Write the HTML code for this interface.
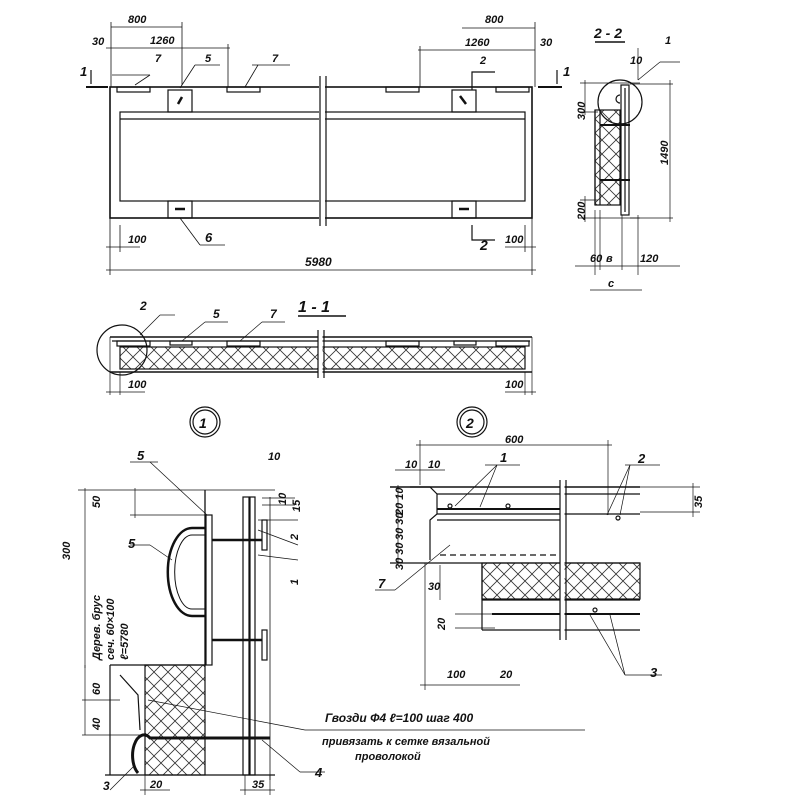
<!DOCTYPE html>
<html><head><meta charset="utf-8"><style>
html,body{margin:0;padding:0;background:#fff}
svg{display:block}
text{font-family:"Liberation Sans","DejaVu Sans",sans-serif;font-style:italic;font-weight:bold;fill:#111}
</style></head><body>
<svg width="800" height="800" viewBox="0 0 800 800" xmlns="http://www.w3.org/2000/svg">
<defs>
<pattern id="h" width="14" height="14" patternUnits="userSpaceOnUse">
<path d="M0 0L14 14M14 0L0 14" stroke="#333" stroke-width="0.8"/>
</pattern>
</defs>
<g stroke="#111" fill="none" stroke-width="1.2">
<!-- PLAN -->
<rect x="110" y="87" width="422" height="131" stroke-width="1.6"/>
<rect x="120" y="112" width="405" height="89"/>
<line x1="120" y1="119" x2="525" y2="119"/>
<line x1="322" y1="76" x2="322" y2="226" stroke="#fff" stroke-width="6"/>
<line x1="320" y1="76" x2="320" y2="226"/><line x1="326" y1="76" x2="326" y2="226"/>
<rect x="168" y="90" width="24" height="22"/><rect x="452" y="90" width="24" height="22"/>
<rect x="168" y="201" width="24" height="17"/><rect x="452" y="201" width="24" height="17"/>
<line x1="178" y1="104" x2="182" y2="97" stroke-width="2.5"/><line x1="460" y1="96" x2="466" y2="104" stroke-width="2.5"/>
<line x1="175" y1="209" x2="185" y2="209" stroke-width="2.5"/><line x1="459" y1="209" x2="469" y2="209" stroke-width="2.5"/>
<rect x="117" y="87" width="33" height="5"/><rect x="227" y="87" width="33" height="5"/>
<rect x="386" y="87" width="33" height="5"/><rect x="496" y="87" width="33" height="5"/>
<line x1="86" y1="87" x2="108" y2="87" stroke-width="2"/><line x1="538" y1="87" x2="562" y2="87" stroke-width="2"/>
<line x1="91" y1="70" x2="91" y2="84"/><line x1="557" y1="70" x2="557" y2="84"/>
<!-- plan dims -->
<line x1="110" y1="88" x2="110" y2="275" stroke-width="0.8"/><line x1="532" y1="218" x2="532" y2="275" stroke-width="0.8"/>
<line x1="106" y1="270" x2="536" y2="270" stroke-width="0.8"/>
<line x1="106" y1="247" x2="140" y2="247" stroke-width="0.8"/><line x1="120" y1="225" x2="120" y2="252" stroke-width="0.8"/>
<line x1="525" y1="225" x2="525" y2="252" stroke-width="0.8"/><line x1="505" y1="247" x2="536" y2="247" stroke-width="0.8"/>
<line x1="111" y1="27" x2="182" y2="27" stroke-width="0.8"/><line x1="111" y1="22" x2="111" y2="87" stroke-width="0.8"/><line x1="182" y1="22" x2="182" y2="85" stroke-width="0.8"/>
<line x1="106" y1="48" x2="230" y2="48" stroke-width="0.8"/><line x1="228" y1="44" x2="228" y2="87" stroke-width="0.8"/>
<line x1="462" y1="28" x2="535" y2="28" stroke-width="0.8"/><line x1="535" y1="22" x2="535" y2="87" stroke-width="0.8"/>
<line x1="418" y1="50" x2="535" y2="50" stroke-width="0.8"/><line x1="420" y1="46" x2="420" y2="87" stroke-width="0.8"/>
<line x1="112" y1="75" x2="150" y2="75" stroke-width="0.8"/><line x1="135" y1="85" x2="150" y2="75" stroke-width="0.8"/>
<line x1="195" y1="65" x2="220" y2="65" stroke-width="0.8"/><line x1="180" y1="88" x2="195" y2="65" stroke-width="0.8"/>
<line x1="252" y1="65" x2="290" y2="65" stroke-width="0.8"/><line x1="245" y1="87" x2="258" y2="65" stroke-width="0.8"/>
<line x1="180" y1="218" x2="200" y2="245" stroke-width="0.8"/><line x1="200" y1="245" x2="225" y2="245" stroke-width="0.8"/>
<polyline points="472,90 472,72 495,72"/><polyline points="472,225 472,240 495,240"/>
<!-- 2-2 section -->
<circle cx="620" cy="102" r="22"/>
<rect x="595" y="110" width="25" height="95" fill="url(#h)"/>
<line x1="595" y1="110" x2="595" y2="205"/><line x1="600" y1="110" x2="600" y2="205"/>
<rect x="621" y="85" width="8" height="130"/><line x1="625" y1="88" x2="625" y2="212"/>
<line x1="600" y1="125" x2="630" y2="125" stroke-width="2"/><line x1="600" y1="180" x2="630" y2="180" stroke-width="2"/>
<path d="M620 95 a4 4 0 1 0 0 8"/>
<line x1="580" y1="83" x2="640" y2="83" stroke-width="0.7"/><line x1="580" y1="112" x2="598" y2="112" stroke-width="0.7"/>
<line x1="585" y1="80" x2="585" y2="115" stroke-width="0.7"/>
<line x1="580" y1="200" x2="598" y2="200" stroke-width="0.7"/><line x1="580" y1="218" x2="640" y2="218" stroke-width="0.7"/>
<line x1="585" y1="196" x2="585" y2="222" stroke-width="0.7"/>
<line x1="630" y1="84" x2="673" y2="84" stroke-width="0.7"/><line x1="670" y1="80" x2="670" y2="222" stroke-width="0.7"/><line x1="630" y1="218" x2="673" y2="218" stroke-width="0.7"/>
<line x1="595" y1="210" x2="595" y2="275" stroke-width="0.7"/><line x1="600" y1="210" x2="600" y2="270" stroke-width="0.7"/>
<line x1="622" y1="215" x2="622" y2="270" stroke-width="0.7"/><line x1="638" y1="215" x2="638" y2="275" stroke-width="0.7"/>
<line x1="575" y1="266" x2="680" y2="266" stroke-width="0.7"/><line x1="590" y1="290" x2="642" y2="290" stroke-width="0.7"/>
<line x1="638" y1="48" x2="638" y2="80" stroke-width="0.7"/><line x1="638" y1="80" x2="660" y2="62" stroke-width="0.7"/><line x1="660" y1="62" x2="680" y2="62" stroke-width="0.7"/>
<line x1="595" y1="42" x2="625" y2="42" stroke-width="1.5"/>
<!-- 1-1 section -->
<line x1="110" y1="337" x2="532" y2="337" stroke-width="1.4"/>
<line x1="112" y1="341" x2="530" y2="341"/>
<rect x="120" y="347" width="405" height="22" fill="url(#h)"/>
<line x1="110" y1="372" x2="532" y2="372" stroke-width="1.4"/>
<line x1="110" y1="337" x2="110" y2="395" stroke-width="0.7"/><line x1="532" y1="337" x2="532" y2="395" stroke-width="0.7"/>
<line x1="120" y1="372" x2="120" y2="395" stroke-width="0.7"/><line x1="525" y1="372" x2="525" y2="395" stroke-width="0.7"/>
<line x1="106" y1="392" x2="145" y2="392" stroke-width="0.7"/><line x1="505" y1="392" x2="536" y2="392" stroke-width="0.7"/>
<rect x="117" y="341" width="33" height="5"/><rect x="227" y="341" width="33" height="5"/><rect x="386" y="341" width="33" height="5"/><rect x="496" y="341" width="33" height="5"/>
<rect x="170" y="341" width="22" height="4"/><rect x="454" y="341" width="22" height="4"/>
<circle cx="122" cy="350" r="25"/>
<line x1="320" y1="330" x2="320" y2="378" stroke="#fff" stroke-width="5"/>
<line x1="318" y1="330" x2="318" y2="378"/><line x1="324" y1="330" x2="324" y2="378"/>
<line x1="140" y1="335" x2="160" y2="315" stroke-width="0.7"/><line x1="160" y1="315" x2="175" y2="315" stroke-width="0.7"/>
<line x1="182" y1="341" x2="205" y2="322" stroke-width="0.7"/><line x1="205" y1="322" x2="228" y2="322" stroke-width="0.7"/>
<line x1="240" y1="341" x2="262" y2="322" stroke-width="0.7"/><line x1="262" y1="322" x2="285" y2="322" stroke-width="0.7"/>
<line x1="298" y1="316" x2="346" y2="316" stroke-width="1.5"/>
<circle cx="205" cy="422" r="15"/><circle cx="205" cy="422" r="12"/>
<circle cx="472" cy="422" r="15"/><circle cx="472" cy="422" r="12"/>
<!-- DETAIL 1 -->
<line x1="78" y1="490" x2="275" y2="490" stroke-width="0.8"/>
<polyline points="205,490 205,665 110,665" stroke-width="1.3"/>
<rect x="206" y="515" width="6" height="150"/>
<line x1="212" y1="540" x2="262" y2="540" stroke-width="2.5"/><line x1="212" y1="640" x2="262" y2="640" stroke-width="2.5"/>
<rect x="262" y="520" width="5" height="30"/><rect x="262" y="630" width="5" height="30"/>
<rect x="243" y="497" width="6" height="278"/><rect x="250" y="497" width="5" height="278"/>
<line x1="270" y1="497" x2="270" y2="780" stroke-width="0.8"/>
<path d="M205 528 H192 a22 40 0 0 0 0 88 H205" stroke-width="2.5"/>
<path d="M205 535 H192 a15 32 0 0 0 0 74 H205" stroke-width="1"/>
<rect x="145" y="665" width="60" height="110" fill="url(#h)"/>
<line x1="110" y1="665" x2="110" y2="775"/>
<polyline points="120,675 138,695 140,730"/>
<path d="M270 738 H150 a10 18 0 0 0 -12 35" stroke-width="3"/>
<line x1="105" y1="775" x2="275" y2="775"/>
<line x1="85" y1="488" x2="85" y2="668" stroke-width="0.7"/>
<line x1="135" y1="488" x2="135" y2="518" stroke-width="0.7"/><line x1="130" y1="515" x2="205" y2="515" stroke-width="0.7"/>
<line x1="85" y1="665" x2="85" y2="735" stroke-width="0.7"/><line x1="82" y1="700" x2="120" y2="700" stroke-width="0.7"/><line x1="82" y1="735" x2="140" y2="735" stroke-width="0.7"/>
<line x1="145" y1="775" x2="145" y2="795" stroke-width="0.7"/><line x1="140" y1="790" x2="170" y2="790" stroke-width="0.7"/>
<line x1="245" y1="775" x2="245" y2="795" stroke-width="0.7"/><line x1="270" y1="775" x2="270" y2="795" stroke-width="0.7"/><line x1="240" y1="790" x2="275" y2="790" stroke-width="0.7"/>
<line x1="130" y1="462" x2="158" y2="462" stroke-width="0.7"/><line x1="150" y1="462" x2="207" y2="515" stroke-width="0.7"/>
<line x1="130" y1="545" x2="150" y2="545" stroke-width="0.7"/><line x1="150" y1="545" x2="172" y2="560" stroke-width="0.7"/>
<line x1="262" y1="498" x2="295" y2="498" stroke-width="0.7"/><line x1="262" y1="505" x2="295" y2="505" stroke-width="0.7"/>
<line x1="258" y1="520" x2="298" y2="520" stroke-width="0.7"/><line x1="258" y1="530" x2="298" y2="545" stroke-width="0.7"/>
<line x1="258" y1="555" x2="298" y2="560" stroke-width="0.7"/>
<line x1="148" y1="700" x2="305" y2="730" stroke-width="0.7"/><line x1="305" y1="730" x2="585" y2="730" stroke-width="0.8"/>
<line x1="262" y1="740" x2="300" y2="772" stroke-width="0.7"/><line x1="300" y1="772" x2="325" y2="772" stroke-width="0.7"/>
<line x1="110" y1="790" x2="135" y2="765" stroke-width="0.7"/>
<!-- DETAIL 2 -->
<line x1="390" y1="487" x2="640" y2="487" stroke-width="1.4"/>
<line x1="437" y1="494" x2="640" y2="494"/>
<line x1="437" y1="509" x2="560" y2="509" stroke-width="2"/>
<line x1="437" y1="514" x2="640" y2="514"/>
<polyline points="410,487 430,487 437,494 437,514 430,520 430,560"/>
<line x1="437" y1="520" x2="560" y2="520"/>
<line x1="390" y1="563" x2="640" y2="563" stroke-width="1.3"/>
<line x1="440" y1="555" x2="560" y2="555" stroke-dasharray="6,4"/>
<rect x="482" y="563" width="158" height="36" fill="url(#h)"/>
<line x1="482" y1="563" x2="482" y2="630"/>
<line x1="482" y1="600" x2="640" y2="600"/>
<line x1="492" y1="614" x2="640" y2="614" stroke-width="2"/>
<line x1="482" y1="630" x2="640" y2="630"/>
<line x1="562" y1="480" x2="562" y2="640" stroke="#fff" stroke-width="5"/>
<line x1="560" y1="480" x2="560" y2="640"/><line x1="566" y1="480" x2="566" y2="640"/>
<circle cx="450" cy="506" r="2"/><circle cx="508" cy="506" r="2"/><circle cx="618" cy="518" r="2"/><circle cx="595" cy="610" r="2"/>
<line x1="420" y1="440" x2="420" y2="485" stroke-width="0.7"/><line x1="608" y1="440" x2="608" y2="515" stroke-width="0.7"/>
<line x1="416" y1="445" x2="612" y2="445" stroke-width="0.7"/>
<line x1="395" y1="470" x2="445" y2="470" stroke-width="0.7"/>
<line x1="398" y1="485" x2="398" y2="565" stroke-width="0.7"/>
<line x1="640" y1="487" x2="700" y2="487" stroke-width="0.7"/><line x1="640" y1="512" x2="700" y2="512" stroke-width="0.7"/><line x1="693" y1="483" x2="693" y2="517" stroke-width="0.7"/>
<line x1="485" y1="465" x2="520" y2="465" stroke-width="0.7"/><line x1="497" y1="465" x2="455" y2="506" stroke-width="0.7"/><line x1="497" y1="465" x2="480" y2="507" stroke-width="0.7"/>
<line x1="625" y1="465" x2="660" y2="465" stroke-width="0.7"/><line x1="630" y1="465" x2="607" y2="515" stroke-width="0.7"/><line x1="630" y1="465" x2="620" y2="515" stroke-width="0.7"/>
<line x1="375" y1="590" x2="395" y2="590" stroke-width="0.7"/><line x1="395" y1="590" x2="450" y2="545" stroke-width="0.7"/>
<line x1="425" y1="563" x2="425" y2="690" stroke-width="0.7"/><line x1="440" y1="565" x2="440" y2="600" stroke-width="0.7"/>
<line x1="420" y1="685" x2="520" y2="685" stroke-width="0.7"/>
<line x1="455" y1="614" x2="495" y2="614" stroke-width="0.7"/><line x1="455" y1="628" x2="495" y2="628" stroke-width="0.7"/>
<line x1="590" y1="615" x2="625" y2="675" stroke-width="0.7"/><line x1="610" y1="615" x2="625" y2="675" stroke-width="0.7"/><line x1="625" y1="675" x2="662" y2="675" stroke-width="0.7"/>
</g>
<g font-size="11">
<text x="128" y="23">800</text><text x="150" y="44">1260</text><text x="92" y="45">30</text>
<text x="485" y="23">800</text><text x="465" y="46">1260</text><text x="540" y="46">30</text>
<text x="155" y="62">7</text><text x="205" y="62">5</text><text x="272" y="62">7</text>
<text x="480" y="64">2</text><text x="480" y="250" font-size="14">2</text>
<text x="80" y="76" font-size="13">1</text><text x="563" y="76" font-size="13">1</text>
<text x="205" y="242" font-size="13">6</text>
<text x="128" y="243">100</text><text x="505" y="243">100</text>
<text x="305" y="266" font-size="12">5980</text>
<text x="594" y="38" font-size="14">2 - 2</text>
<text x="630" y="64">10</text><text x="665" y="44">1</text>
<text x="140" y="310" font-size="12">2</text><text x="213" y="318" font-size="12">5</text><text x="270" y="318" font-size="12">7</text>
<text x="298" y="312" font-size="16">1 - 1</text>
<text x="128" y="388">100</text><text x="505" y="388">100</text>
<text x="199" y="428" font-size="14">1</text><text x="466" y="428" font-size="14">2</text>
<text x="590" y="262">60</text><text x="606" y="262">в</text><text x="640" y="262">120</text><text x="608" y="287">с</text>
<text x="137" y="460" font-size="13">5</text><text x="128" y="548" font-size="13">5</text>
<text x="325" y="722" font-size="12">Гвозди Ф4 ℓ=100 шаг 400</text>
<text x="322" y="745" font-size="11">привязать к сетке вязальной</text>
<text x="355" y="760" font-size="11">проволокой</text>
<text x="315" y="777" font-size="13">4</text><text x="103" y="790" font-size="12">3</text>
<text x="150" y="788">20</text><text x="252" y="788">35</text><text x="268" y="460">10</text>
<text x="505" y="443">600</text><text x="405" y="468">10</text><text x="428" y="468">10</text>
<text x="500" y="462" font-size="13">1</text><text x="638" y="463" font-size="13">2</text>
<text x="378" y="588" font-size="13">7</text><text x="428" y="590">30</text>
<text x="447" y="678">100</text><text x="500" y="678">20</text><text x="650" y="677" font-size="13">3</text>
<g transform="rotate(-90)">
<text x="-560" y="70">300</text><text x="-508" y="100">50</text><text x="-695" y="100">60</text><text x="-730" y="100">40</text>
<text x="-660" y="100" font-size="11">Дерев. брус</text><text x="-660" y="114" font-size="11">сеч. 60×100</text><text x="-660" y="128" font-size="11">ℓ=5780</text>
<text x="-540" y="298">2</text><text x="-585" y="298">1</text><text x="-512" y="300">15</text><text x="-505" y="286">10</text>
<text x="-120" y="585">300</text><text x="-165" y="668">1490</text><text x="-220" y="585">200</text>
<text x="-515" y="403">20 10</text><text x="-540" y="403">30 30</text><text x="-570" y="403">30 30</text><text x="-508" y="702">35</text><text x="-630" y="445">20</text>
</g>
</g>
</svg>
</body></html>
